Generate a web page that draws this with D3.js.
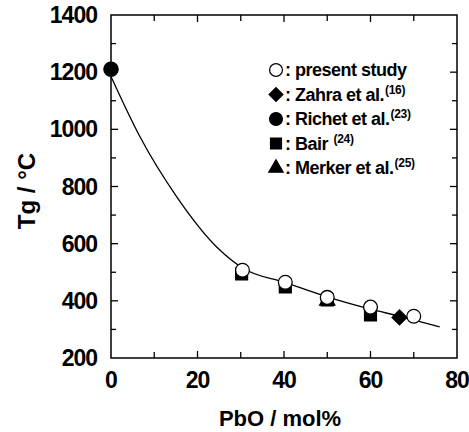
<!DOCTYPE html>
<html><head><meta charset="utf-8">
<script src="https://cdn.jsdelivr.net/npm/d3@7"></script>
<style>
body{margin:0;background:#fff;}
svg text{font-family:"Liberation Sans",Arial,sans-serif;font-weight:bold;fill:#000;}
</style></head><body>
<svg id="c" width="469" height="432"></svg>
<script>
// Data
const xTicks = [0, 20, 40, 60, 80];
const yTicks = [200, 400, 600, 800, 1000, 1200, 1400];
const presentX = [30.4, 40.3, 50, 60, 70];
const presentY = [507, 465, 412, 378, 346];
const zahraX = [66.7];
const zahraY = [342];
const richetX = [0];
const richetY = [1210];
const bairX = [30.2, 40.3, 50, 60];
const bairY = [494, 449, 403, 351];
const merkerX = [50];
const merkerY = [400];
const fitX = [0, 6.7, 15.2, 24.8, 30.4, 40.3, 50, 60, 67, 76];
const fitY = [1185, 974, 764, 583, 515, 464, 414, 371, 345, 309];
const legendLabels = ["present study", "Zahra et al.", "Richet et al.", "Bair ", "Merker et al."];
const legendRefs = ["", "(16)", "(23)", "(24)", "(25)"];

const svg = d3.select("#c");
const m = {l:111, r:457, t:15, b:358};
const x = d3.scaleLinear().domain([0,80]).range([m.l, m.r]);
const y = d3.scaleLinear().domain([200,1400]).range([m.b, m.t]);

// frame
svg.append("rect").attr("x", m.l).attr("y", m.t).attr("width", m.r-m.l).attr("height", m.b-m.t)
  .attr("fill","none").attr("stroke","#000").attr("stroke-width",1.5);

// ticks (inward, all sides)
const g = svg.append("g").attr("stroke","#000").attr("stroke-width",1.3);
d3.range(0, 81, 10).forEach(v => {
  const L = v % 20 === 0 ? 7 : 6;
  if (v>0 && v<80) {
    g.append("line").attr("x1", x(v)).attr("x2", x(v)).attr("y1", m.b).attr("y2", m.b-L);
    g.append("line").attr("x1", x(v)).attr("x2", x(v)).attr("y1", m.t).attr("y2", m.t+L);
  }
});
d3.range(200, 1401, 100).forEach(v => {
  const L = v % 200 === 0 ? 7 : 5;
  if (v>200 && v<1400) {
    g.append("line").attr("x1", m.l).attr("x2", m.l+L).attr("y1", y(v)).attr("y2", y(v));
    g.append("line").attr("x1", m.r).attr("x2", m.r-L).attr("y1", y(v)).attr("y2", y(v));
  }
});

// tick labels
svg.append("g").selectAll("text").data(xTicks).join("text")
  .attr("x", d => x(d)).attr("y", 388).attr("text-anchor","middle")
  .attr("font-size", 23).attr("letter-spacing", -1).text(d => d);
svg.append("g").selectAll("text").data(yTicks).join("text")
  .attr("x", 97).attr("y", d => y(d)+8).attr("text-anchor","end")
  .attr("font-size", 23).attr("letter-spacing", -1).text(d => d);

// axis titles
svg.append("text").attr("x", 280).attr("y", 426).attr("text-anchor","middle")
  .attr("font-size", 22).text("PbO / mol%");
svg.append("text").attr("transform", "translate(35,191) rotate(-90)").attr("text-anchor","middle")
  .attr("font-size", 24).text("Tg / °C");

// fitted curve
const line = d3.line().x(d => x(d[0])).y(d => y(d[1])).curve(d3.curveMonotoneX);
svg.append("path").datum(fitX.map((v,i)=>[v, fitY[i]])).attr("d", line)
  .attr("fill","none").attr("stroke","#000").attr("stroke-width",1.3);

// markers
const diamond = { draw(ctx, size) { const r = Math.sqrt(size/2); ctx.moveTo(0,-r); ctx.lineTo(r,0); ctx.lineTo(0,r); ctx.lineTo(-r,0); ctx.closePath(); } };
const sym = (type, size) => d3.symbol().type(type).size(size)();
function pts(xs, ys, type, size, fill) {
  svg.append("g").selectAll("path").data(xs.map((v,i)=>[v, ys[i]])).join("path")
    .attr("transform", d => `translate(${x(d[0])},${y(d[1])})`)
    .attr("d", sym(type, size)).attr("fill", fill).attr("stroke","#000").attr("stroke-width",1.3);
}
pts(merkerX, merkerY, d3.symbolTriangle, 100, "#000");
pts(bairX, bairY, d3.symbolSquare, 140, "#000");
pts(zahraX, zahraY, diamond, 110, "#000");
pts(richetX, richetY, d3.symbolCircle, 160, "#000");
pts(presentX, presentY, d3.symbolCircle, 150, "#fff");

// legend
const lx = 276, ly0 = 70, dy = 24.5;
const lsyms = [[d3.symbolCircle,130,"#fff"],[diamond,95,"#000"],[d3.symbolCircle,130,"#000"],[d3.symbolSquare,120,"#000"],[d3.symbolTriangle,90,"#000"]];
legendLabels.forEach((lab, i) => {
  const yy = ly0 + i*dy;
  const s = lsyms[i];
  svg.append("path").attr("transform", `translate(${lx},${yy})`).attr("d", sym(s[0], s[1]))
    .attr("fill", s[2]).attr("stroke","#000").attr("stroke-width",1.2);
  const t = svg.append("text").attr("x", lx+9).attr("y", yy+6).attr("font-size", 18).attr("letter-spacing", -0.5);
  t.append("tspan").text(": " + lab);
  if (legendRefs[i]) t.append("tspan").attr("font-size", 12).attr("dy", -7).attr("dx", 1).attr("letter-spacing", -0.3).text(legendRefs[i]);
});
</script>
</body></html>
